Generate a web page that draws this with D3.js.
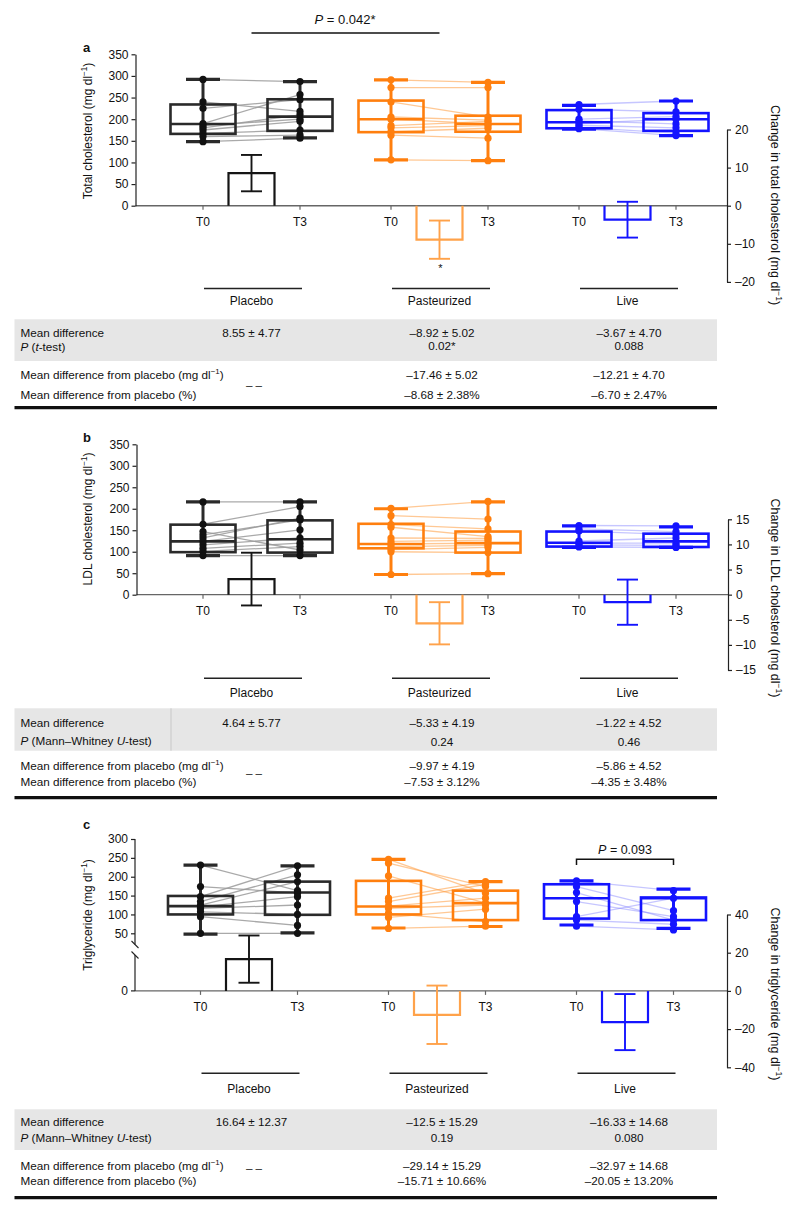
<!DOCTYPE html>
<html><head><meta charset="utf-8">
<script src="https://cdn.jsdelivr.net/npm/d3@7"></script>
<style>
body{margin:0;background:#fff}
svg{display:block}
text{font-family:"Liberation Sans",Arial,Helvetica,sans-serif;fill:#111}
</style>
</head><body><svg id="chart" width="800" height="1213"></svg>
<script>
// ---------------- DATA ----------------
const groups = ["Placebo", "Pasteurized", "Live"];
const times = ["T0", "T3"];

// Panel a: total cholesterol (paired individual values, same index = same subject)
const aPlaceboT0 = [292, 240, 225, 190, 185, 180, 175, 167, 160, 148];
const aPlaceboT3 = [287, 218, 245, 257, 200, 210, 195, 175, 163, 156];
const aPastT0 = [291, 273, 240, 205, 200, 185, 180, 171, 163, 106];
const aPastT3 = [285, 273, 205, 198, 189, 195, 185, 179, 156, 104];
const aLiveT0 = [234, 223, 200, 196, 190, 186, 181, 178];
const aLiveT3 = [242, 217, 206, 189, 200, 180, 168, 162];
// box stats [min, q1, median, q3, max] for Placebo T0, T3, Past T0, T3, Live T0, T3
const aBoxes = [[148,166,189,234,292],[157,173,206,246,287],[106,170,200,243,291],[104,171,189,208,285],[177,179,193,221,232],[162,173,200,214,242]];
const aChangeMean = [8.55, -8.92, -3.67];
const aChangeErr = [4.77, 5.02, 4.70];
const aLeftTicks = [0, 50, 100, 150, 200, 250, 300, 350];
const aRightTicks = [-20, -10, 0, 10, 20];
const aMeanDiff = ["8.55 ± 4.77", "–8.92 ± 5.02", "–3.67 ± 4.70"];
const aPVal = ["", "0.02*", "0.088"];
const aDiffMg = ["", "–17.46 ± 5.02", "–12.21 ± 4.70"];
const aDiffPct = ["", "–8.68 ± 2.38%", "–6.70 ± 2.47%"];

// Panel b: LDL cholesterol
const bPlaceboT0 = [216, 164, 147, 139, 132, 124, 116, 108, 101, 91];
const bPlaceboT3 = [216, 205, 104, 174, 178, 151, 132, 120, 112, 91];
const bPastT0 = [201, 184, 163, 157, 132, 124, 118, 112, 105, 100, 47];
const bPastT3 = [217, 176, 153, 135, 131, 127, 120, 115, 110, 98, 49];
const bLiveT0 = [161, 153, 148, 125, 120, 116, 111];
const bLiveT3 = [160, 147, 140, 132, 120, 115, 110];
const bBoxes = [[91,99,124,163,216],[91,98,129,173,216],[47,108,118,165,200],[49,98,120,147,216],[110,112,121,147,160],[110,111,124,142,158]];
const bChangeMean = [3.1, -5.7, -1.5];
const bChangeErr = [5.25, 4.2, 4.5];
const bLeftTicks = [0, 50, 100, 150, 200, 250, 300, 350];
const bRightTicks = [-15, -10, -5, 0, 5, 10, 15];
const bMeanDiff = ["4.64 ± 5.77", "–5.33 ± 4.19", "–1.22 ± 4.52"];
const bPVal = ["", "0.24", "0.46"];
const bDiffMg = ["", "–9.97 ± 4.19", "–5.86 ± 4.52"];
const bDiffPct = ["", "–7.53 ± 3.12%", "–4.35 ± 3.48%"];

// Panel c: triglyceride
const cPlaceboT0 = [231, 174, 147, 134, 125, 120, 116, 107, 94, 50];
const cPlaceboT3 = [163, 157, 229, 205, 187, 147, 125, 100, 71, 50];
const cPastT0 = [246, 236, 202, 143, 134, 122, 116, 103, 92, 63];
const cPastT3 = [156, 174, 130, 187, 180, 143, 125, 81, 114, 69];
const cLiveT0 = [189, 174, 158, 134, 94, 85, 69];
const cLiveT3 = [163, 110, 85, 94, 143, 74, 59];
const cBoxes = [[48,100,122,149,231],[51,99,158,187,229],[64,100,121,189,246],[68,85,130,163,187],[72,89,143,180,189],[63,85,143,145,167]];
const cChangeMean = [16.64, -12.5, -16.33];
const cChangeErr = [12.37, 15.29, 14.68];
const cLeftTicks = [50, 100, 150, 200, 250, 300];
const cRightTicks = [-40, -20, 0, 20, 40];
const cMeanDiff = ["16.64 ± 12.37", "–12.5 ± 15.29", "–16.33 ± 14.68"];
const cPVal = ["", "0.19", "0.080"];
const cDiffMg = ["", "–29.14 ± 15.29", "–32.97 ± 14.68"];
const cDiffPct = ["", "–15.71 ± 10.66%", "–20.05 ± 13.20%"];

// ---------------- STYLES ----------------
const styles = {
  Placebo:     {box: "#2a2a2a", dot: "#111111", link: "#9a9a9a", linkOp: 0.85, bar: "#151515"},
  Pasteurized: {box: "#ff7f0e", dot: "#ff7f0e", link: "#ff9a3c", linkOp: 0.55, bar: "#ffa24a"},
  Live:        {box: "#1414ff", dot: "#1414ff", link: "#8080ff", linkOp: 0.45, bar: "#1414ff"}
};

const svg = d3.select("#chart");

function rich(parent, x, y, parts, o) {
  o = o || {};
  const size = o.size || 12;
  const t = parent.append("text").attr("x", x).attr("y", y)
    .attr("font-size", size).attr("text-anchor", o.anchor || "start");
  if (o.transform) t.attr("transform", o.transform).attr("x", 0).attr("y", 0);
  if (o.weight) t.attr("font-weight", o.weight);
  let shifted = 0;
  parts.forEach(p => {
    if (typeof p === "string") p = {t: p};
    const ts = t.append("tspan").text(p.t);
    if (p.i) ts.attr("font-style", "italic");
    if (p.sup) {
      ts.attr("font-size", size * 0.68).attr("dy", -size * 0.42);
      shifted = size * 0.42;
    } else if (shifted) {
      ts.attr("dy", shifted); shifted = 0;
    }
  });
  return t;
}

function panel(cfg) {
  const g = svg.append("g");
  const xg = d3.scalePoint().domain(groups).range([251.5 + cfg.dx, 627.5 + cfg.dx]);
  const xt = d3.scalePoint().domain(times).range([-48.5, 48.5]);
  const X = (gr, t) => xg(gr) + xt(t);
  const yL = cfg.yL, yR = cfg.yR;
  const base = yR(0);
  const axL = cfg.axisLeftX, axR = cfg.axisRightX;

  // baseline (x axis)
  g.append("line").attr("x1", axL).attr("x2", axR).attr("y1", base).attr("y2", base)
    .attr("stroke", "#666").attr("stroke-width", 1.4);
  groups.forEach(gr => times.forEach(t => {
    g.append("line").attr("x1", X(gr, t)).attr("x2", X(gr, t)).attr("y1", base).attr("y2", base + 4)
      .attr("stroke", "#666").attr("stroke-width", 1.2);
    g.append("text").attr("x", X(gr, t)).attr("y", base + 20.5).attr("text-anchor", "middle")
      .attr("font-size", 12).text(t);
  }));

  // left axis
  const la = g.append("g").attr("transform", `translate(${axL},0)`)
    .call(d3.axisLeft(yL).tickValues(cfg.leftTicks).tickSize(4).tickPadding(3).tickSizeOuter(0));
  la.selectAll("text").attr("font-size", 12).attr("font-family", null).attr("fill", "#111");
  la.selectAll("line").attr("stroke", "#222").attr("stroke-width", 1.2);
  la.select(".domain").attr("stroke", "#222").attr("stroke-width", 1.2);
  if (cfg.broken) {
    la.select(".domain").remove();
    const y0 = yL(cfg.leftTicks[cfg.leftTicks.length - 1]);
    g.append("line").attr("x1", axL).attr("x2", axL).attr("y1", y0).attr("y2", cfg.breakTop).attr("stroke", "#222").attr("stroke-width", 1.2);
    g.append("line").attr("x1", axL).attr("x2", axL).attr("y1", cfg.breakBot).attr("y2", base).attr("stroke", "#222").attr("stroke-width", 1.2);
    [cfg.breakTop, cfg.breakBot].forEach(yb => {
      g.append("line").attr("x1", axL - 3.5).attr("x2", axL + 3.5).attr("y1", yb - 3.5).attr("y2", yb + 3.5)
        .attr("stroke", "#222").attr("stroke-width", 1.1);
    });
    g.append("line").attr("x1", axL - 4).attr("x2", axL).attr("y1", base).attr("y2", base).attr("stroke", "#222").attr("stroke-width", 1.2);
    g.append("text").attr("x", axL - 7).attr("y", base + 4.3).attr("text-anchor", "end").attr("font-size", 12).text("0");
  }

  // right axis
  const ra = g.append("g").attr("transform", `translate(${axR},0)`)
    .call(d3.axisRight(yR).tickValues(cfg.rightTicks).tickSize(4).tickPadding(4).tickSizeOuter(0)
      .tickFormat(d => d < 0 ? "–" + Math.abs(d) : "" + d));
  ra.selectAll("text").attr("font-size", 12).attr("font-family", null).attr("fill", "#111");
  ra.selectAll("line").attr("stroke", "#222").attr("stroke-width", 1.2);
  ra.select(".domain").attr("stroke", "#222").attr("stroke-width", 1.2);

  // paired links
  groups.forEach((gr, gi) => {
    const st = styles[gr];
    const t0 = cfg.points[gi][0], t3 = cfg.points[gi][1];
    t0.forEach((v, i) => {
      g.append("line").attr("x1", X(gr, "T0")).attr("x2", X(gr, "T3"))
        .attr("y1", yL(v)).attr("y2", yL(t3[i]))
        .attr("stroke", st.link).attr("stroke-opacity", st.linkOp).attr("stroke-width", 1.3);
    });
  });

  // boxes
  groups.forEach((gr, gi) => {
    const st = styles[gr];
    times.forEach((t, ti) => {
      const b = cfg.boxes[gi * 2 + ti];
      const cx = X(gr, t), hw = 32.5, cw = 17;
      g.append("line").attr("x1", cx).attr("x2", cx).attr("y1", yL(b[0])).attr("y2", yL(b[4]))
        .attr("stroke", st.box).attr("stroke-width", 3);
      [b[0], b[4]].forEach(v => g.append("line").attr("x1", cx - cw).attr("x2", cx + cw)
        .attr("y1", yL(v)).attr("y2", yL(v)).attr("stroke", st.box).attr("stroke-width", 3.2));
      g.append("rect").attr("x", cx - hw).attr("width", hw * 2)
        .attr("y", yL(b[3])).attr("height", yL(b[1]) - yL(b[3]))
        .attr("fill", "none").attr("stroke", st.box).attr("stroke-width", 2.6);
      g.append("line").attr("x1", cx - hw).attr("x2", cx + hw).attr("y1", yL(b[2])).attr("y2", yL(b[2]))
        .attr("stroke", st.box).attr("stroke-width", 2.6);
      cfg.points[gi][ti].forEach(v => {
        g.append("circle").attr("cx", cx).attr("cy", yL(v)).attr("r", 3.6).attr("fill", st.dot);
      });
    });
  });

  // change bars (right axis)
  groups.forEach((gr, gi) => {
    const st = styles[gr];
    const cx = xg(gr), hw = 23, m = cfg.mean[gi], e = cfg.err[gi];
    g.append("path").attr("d", `M${cx - hw},${base}V${yR(m)}H${cx + hw}V${base}`)
      .attr("fill", "none").attr("stroke", st.bar).attr("stroke-width", 2.2);
    g.append("line").attr("x1", cx).attr("x2", cx).attr("y1", yR(m - e)).attr("y2", yR(m + e))
      .attr("stroke", st.bar).attr("stroke-width", 1.9);
    [m - e, m + e].forEach(v => g.append("line").attr("x1", cx - 10.5).attr("x2", cx + 10.5)
      .attr("y1", yR(v)).attr("y2", yR(v)).attr("stroke", st.bar).attr("stroke-width", 1.9));
  });

  // titles
  g.append("text").attr("x", 83).attr("y", cfg.letterY).attr("font-size", 13).attr("font-weight", "bold").text(cfg.letter);
  rich(g, 0, 0, [cfg.leftTitle + " (mg dl", {t: "−1", sup: true}, ")"],
    {size: 12, anchor: "middle", transform: `translate(92,${cfg.leftTitleY}) rotate(-90)`});
  rich(g, 0, 0, [cfg.rightTitle + " (mg dl", {t: "−1", sup: true}, ")"],
    {size: 12.5, anchor: "middle", transform: `translate(771,${cfg.rightTitleY}) rotate(90)`});

  // group labels and table
  const T = cfg.table;
  groups.forEach(gr => {
    g.append("line").attr("x1", X(gr, "T0") + 1).attr("x2", X(gr, "T3") + 2).attr("y1", T.gLine).attr("y2", T.gLine)
      .attr("stroke", "#222").attr("stroke-width", 1.5);
    g.append("text").attr("x", xg(gr)).attr("y", T.label).attr("text-anchor", "middle").attr("font-size", 12).text(gr);
  });
  g.append("rect").attr("x", 14.5).attr("width", 702.5).attr("y", T.bandTop).attr("height", T.bandBot - T.bandTop).attr("fill", "#e6e6e6");
  if (T.sep) g.append("line").attr("x1", T.sep).attr("x2", T.sep).attr("y1", T.bandTop).attr("y2", T.bandBot).attr("stroke", "#c8c8c8").attr("stroke-width", 1);
  const fs = 11.7;
  rich(g, 20.5, T.rows[0], ["Mean difference"], {size: fs});
  rich(g, 20.5, T.rows[1], cfg.pLabel, {size: fs});
  rich(g, 20.5, T.rows[2], ["Mean difference from placebo (mg dl", {t: "−1", sup: true}, ")"], {size: fs});
  rich(g, 20.5, T.rows[3], ["Mean difference from placebo (%)"], {size: fs});
  const colX = [251.5, 442, 629];
  groups.forEach((gr, gi) => {
    const cx = colX[gi];
    g.append("text").attr("x", cx).attr("y", T.rows[0]).attr("text-anchor", "middle").attr("font-size", fs).text(cfg.meanDiff[gi]);
    g.append("text").attr("x", cx).attr("y", T.pRow).attr("text-anchor", "middle").attr("font-size", fs).text(cfg.pVal[gi]);
    g.append("text").attr("x", cx).attr("y", T.rows[2]).attr("text-anchor", "middle").attr("font-size", fs).text(cfg.diffMg[gi]);
    g.append("text").attr("x", cx).attr("y", T.rows[3]).attr("text-anchor", "middle").attr("font-size", fs).text(cfg.diffPct[gi]);
  });
  g.append("text").attr("x", 254).attr("y", T.dash).attr("text-anchor", "middle").attr("font-size", fs).text("– –");
  g.append("line").attr("x1", 14.5).attr("x2", 717).attr("y1", T.thick).attr("y2", T.thick).attr("stroke", "#111").attr("stroke-width", 3.3);

  return {g, X, xg, yL, yR};
}

// Panel a
const pa = panel({
  letter: "a", letterY: 52, dx: 0,
  yL: d3.scaleLinear().domain([0, 350]).range([205.7, 54.3]),
  yR: d3.scaleLinear().domain([-20, 20]).range([281.9, 129.5]),
  axisLeftX: 135.5, axisRightX: 727,
  leftTicks: aLeftTicks, rightTicks: aRightTicks,
  points: [[aPlaceboT0, aPlaceboT3], [aPastT0, aPastT3], [aLiveT0, aLiveT3]],
  boxes: aBoxes, mean: aChangeMean, err: aChangeErr,
  leftTitle: "Total cholesterol", leftTitleY: 131,
  rightTitle: "Change in total cholesterol", rightTitleY: 205,
  pLabel: [{t: "P", i: 1}, " (", {t: "t", i: 1}, "-test)"],
  meanDiff: aMeanDiff, pVal: aPVal, diffMg: aDiffMg, diffPct: aDiffPct,
  table: {gLine: 288.5, label: 305, bandTop: 319.3, bandBot: 361, rows: [337, 351, 379, 399], pRow: 350, dash: 388.5, thick: 407.7}
});
// significance bracket placebo vs pasteurized
svg.append("line").attr("x1", pa.xg("Placebo")).attr("x2", pa.xg("Pasteurized")).attr("y1", 33).attr("y2", 33)
  .attr("stroke", "#111").attr("stroke-width", 1.5);
rich(svg, (pa.xg("Placebo") + pa.xg("Pasteurized")) / 2 - 0.5, 23.5, [{t: "P", i: 1}, " = 0.042*"], {size: 13, anchor: "middle"});
svg.append("text").attr("x", pa.xg("Pasteurized") + 1).attr("y", pa.yR(aChangeMean[1] - aChangeErr[1]) + 13)
  .attr("text-anchor", "middle").attr("font-size", 11).text("*");

// Panel b
panel({
  letter: "b", letterY: 442, dx: 0,
  yL: d3.scaleLinear().domain([0, 350]).range([594.7, 444.3]),
  yR: d3.scaleLinear().domain([-15, 15]).range([670, 519.3]),
  axisLeftX: 136.5, axisRightX: 728,
  leftTicks: bLeftTicks, rightTicks: bRightTicks,
  points: [[bPlaceboT0, bPlaceboT3], [bPastT0, bPastT3], [bLiveT0, bLiveT3]],
  boxes: bBoxes, mean: bChangeMean, err: bChangeErr,
  leftTitle: "LDL cholesterol", leftTitleY: 519,
  rightTitle: "Change in LDL cholesterol", rightTitleY: 598,
  pLabel: [{t: "P", i: 1}, " (Mann–Whitney ", {t: "U", i: 1}, "-test)"],
  meanDiff: bMeanDiff, pVal: bPVal, diffMg: bDiffMg, diffPct: bDiffPct,
  table: {gLine: 678.3, label: 697, bandTop: 708.3, bandBot: 750.7, sep: 171, rows: [726.5, 745, 770, 786], pRow: 745.5, dash: 777, thick: 797.7}
});

// Panel c
const pc = panel({
  letter: "c", letterY: 829, dx: -2.5, broken: true, breakTop: 944.5, breakBot: 955,
  yL: d3.scaleLinear().domain([50, 300]).range([933.3, 839]),
  yR: d3.scaleLinear().domain([-40, 40]).range([1067.3, 914.5]),
  axisLeftX: 135, axisRightX: 727,
  leftTicks: cLeftTicks, rightTicks: cRightTicks,
  points: [[cPlaceboT0, cPlaceboT3], [cPastT0, cPastT3], [cLiveT0, cLiveT3]],
  boxes: cBoxes, mean: cChangeMean, err: cChangeErr,
  leftTitle: "Triglyceride", leftTitleY: 915,
  rightTitle: "Change in triglyceride", rightTitleY: 994,
  pLabel: [{t: "P", i: 1}, " (Mann–Whitney ", {t: "U", i: 1}, "-test)"],
  meanDiff: cMeanDiff, pVal: cPVal, diffMg: cDiffMg, diffPct: cDiffPct,
  table: {gLine: 1073.3, label: 1092.5, bandTop: 1109.3, bandBot: 1150, rows: [1126, 1142, 1170, 1184.5], pRow: 1142, dash: 1172, thick: 1197.7}
});
// bracket Live T0 vs T3
{
  const x0 = pc.X("Live", "T0"), x1 = pc.X("Live", "T3");
  svg.append("path").attr("d", `M${x0},865V859.3H${x1}V865`).attr("fill", "none").attr("stroke", "#111").attr("stroke-width", 1.5);
  rich(svg, (x0 + x1) / 2, 853.5, [{t: "P", i: 1}, " = 0.093"], {size: 12.5, anchor: "middle"});
}
</script></body></html>
